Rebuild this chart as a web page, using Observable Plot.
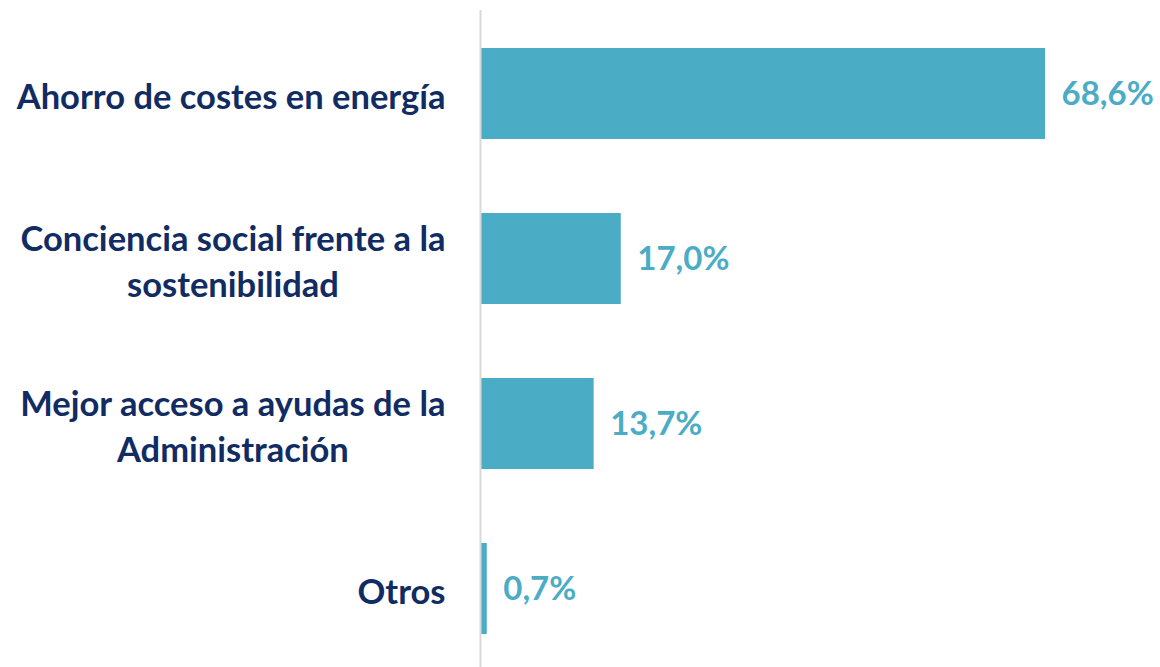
<!DOCTYPE html>
<html><head><meta charset="utf-8">
<script src="https://cdn.jsdelivr.net/npm/d3@7"></script>
<script src="https://cdn.jsdelivr.net/npm/@observablehq/plot@0.6"></script>
<style>body{margin:0;background:#fff} svg{display:block}</style>
</head><body><div id="chart"></div>
<script>
const categories = [
  "Ahorro de costes en energía",
  "Conciencia social frente a la\nsostenibilidad",
  "Mejor acceso a ayudas de la\nAdministración",
  "Otros"
];
const values = [68.6, 17.0, 13.7, 0.7];
const fmt = v => v.toFixed(1).replace(".", ",") + "%";
const data = categories.map((c, i) => ({category: c, value: values[i]}));

const navy = "#112b63";
const teal = "#4bacc6";
const font = "Lato, 'Open Sans', sans-serif";

const chart = Plot.plot({
  width: 1160,
  height: 667,
  marginTop: 10,
  marginBottom: 0,
  marginLeft: 0,
  marginRight: 0,
  style: {fontFamily: font, background: "#fff"},
  x: {domain: [0, 80], range: [481, 481 + 80 * 8.222], axis: null},
  y: {domain: categories, range: [10, 671], paddingInner: 0.45, paddingOuter: 0.225, axis: null},
  marks: [
    Plot.barX(data, {x: "value", y: "category", fill: teal}),
    Plot.ruleX([0], {stroke: "#d9d9d9", strokeWidth: 2, dx: -1}),
    Plot.text(data, {
      x: 0, y: "category", text: "category", textAnchor: "end", dx: -36,
      fill: navy, fontWeight: "bold", fontSize: 34.5, lineHeight: 1.34
    }),
    Plot.text(data, {
      x: "value", y: "category", text: d => fmt(d.value), textAnchor: "start", dx: 16,
      fill: teal, fontWeight: "bold", fontSize: 33
    })
  ]
});
document.getElementById("chart").append(chart);

// center the lines of multi-line labels within their right-aligned block
chart.querySelectorAll("text").forEach(t => {
  const spans = [...t.querySelectorAll("tspan")];
  if (spans.length < 2) return;
  const w = Math.max(...spans.map(s => s.getComputedTextLength()));
  t.setAttribute("text-anchor", "middle");
  spans.forEach(s => s.setAttribute("x", -w / 2));
});
</script>
</body></html>
